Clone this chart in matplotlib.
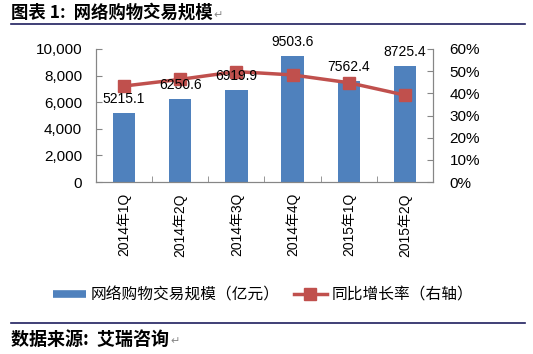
import matplotlib
matplotlib.use("Agg")
import matplotlib.pyplot as plt
from matplotlib.ticker import FuncFormatter, FixedLocator
from matplotlib.lines import Line2D
import numpy as np

plt.rcParams['font.family'] = ['Liberation Sans', 'Noto Sans CJK SC', 'DejaVu Sans']

categories = ["2014年1Q", "2014年2Q", "2014年3Q", "2014年4Q", "2015年1Q", "2015年2Q"]
volume = [5215.1, 6250.6, 6919.9, 9503.6, 7562.4, 8725.4]
growth = [0.433, 0.463, 0.498, 0.483, 0.448, 0.392]
bar_label = "网络购物交易规模（亿元）"
line_label = "同比增长率（右轴）"
title = "图表 1:  网络购物交易规模"
source = "数据来源:  艾瑞咨询"

BLUE = "#4F81BD"
RED = "#C0504D"

W, H = 533, 354
fig = plt.figure(figsize=(W / 100, H / 100), dpi=100)
ax = fig.add_axes([96 / W, 1 - 182 / H, (433 - 96) / W, (182 - 49) / H])
ax2 = ax.twinx()

x = np.arange(len(categories))
ax.bar(x, volume, width=0.4, color=BLUE, zorder=2)
ax.set_xlim(-0.5, len(categories) - 0.5)
ax.set_ylim(0, 10000)
ax.set_yticks(np.arange(0, 10001, 2000))
ax.yaxis.set_major_formatter(FuncFormatter(lambda v, p: f"{int(v):,}"))

ax2.plot(x, growth, color=RED, lw=2.5, marker="s", markersize=9,
         markerfacecolor=RED, markeredgecolor=RED, zorder=3)
ax2.set_ylim(0, 0.6)
ax2.set_yticks(np.arange(0, 0.61, 0.1))
ax2.yaxis.set_major_formatter(FuncFormatter(lambda v, p: f"{v*100:.0f}%"))

# data labels drawn on top of the line
for xi, v in zip(x, volume):
    ax2.annotate(f"{v}", (xi, v), xycoords=ax.transData, xytext=(0, 5),
                 textcoords="offset points", ha="center", va="bottom",
                 fontsize=10, color="#000000", zorder=6)

ax.set_xticks(x)
ax.set_xticklabels(categories, rotation=90, fontsize=10,
                   family=['Liberation Sans', 'Noto Sans CJK SC'])
ax.xaxis.set_minor_locator(FixedLocator(np.arange(-0.5, len(categories), 1)))
ax.tick_params(axis="x", which="major", length=0, pad=8)
ax.tick_params(axis="x", which="minor", direction="in", length=4, color="#868686")
ax.tick_params(axis="y", direction="in", length=4, color="#868686", labelsize=11, pad=10)
ax2.tick_params(axis="y", direction="in", length=4, color="#868686", labelsize=11, pad=12)

for a in (ax, ax2):
    a.spines["top"].set_visible(False)
    for s in ("left", "right", "bottom"):
        a.spines[s].set_color("#868686")
        a.spines[s].set_linewidth(0.8)

# legend
h_bar = Line2D([], [], color=BLUE, lw=5.5, solid_capstyle="butt")
h_line = Line2D([], [], color=RED, lw=2.5, marker="s", markersize=9,
                markerfacecolor=RED, markeredgecolor=RED)
fig.legend(handles=[h_bar, h_line], labels=[bar_label, line_label], loc="center left",
           bbox_to_anchor=(53 / W, 1 - 295 / H), ncol=2, frameon=False,
           prop={'family': ['Noto Sans CJK SC'], 'size': 11.3}, handlelength=2.1,
           columnspacing=0.9, handletextpad=0.3, borderpad=0, borderaxespad=0)

# title and source
fig.text(11 / W, 1 - 13 / H, title, ha="left", va="center", fontsize=12.5, fontweight="bold",
         family=['Noto Sans CJK SC'])
fig.text(213 / W, 1 - 15 / H, "↵", ha="left", va="center", fontsize=8, color="#888888",
         family=['DejaVu Sans'])
fig.text(11 / W, 1 - 339 / H, source, ha="left", va="center", fontsize=13, fontweight="bold",
         family=['Noto Sans CJK SC'])
fig.text(170 / W, 1 - 341 / H, "↵", ha="left", va="center", fontsize=8, color="#888888",
         family=['DejaVu Sans'])
fig.add_artist(Line2D([11 / W, 525 / W], [1 - 24 / H, 1 - 24 / H], color="#1F1F5F", lw=1.2))
fig.add_artist(Line2D([11 / W, 525 / W], [1 - 323 / H, 1 - 323 / H], color="#1F1F5F", lw=1.2))

fig.savefig("out.png", dpi=100)
